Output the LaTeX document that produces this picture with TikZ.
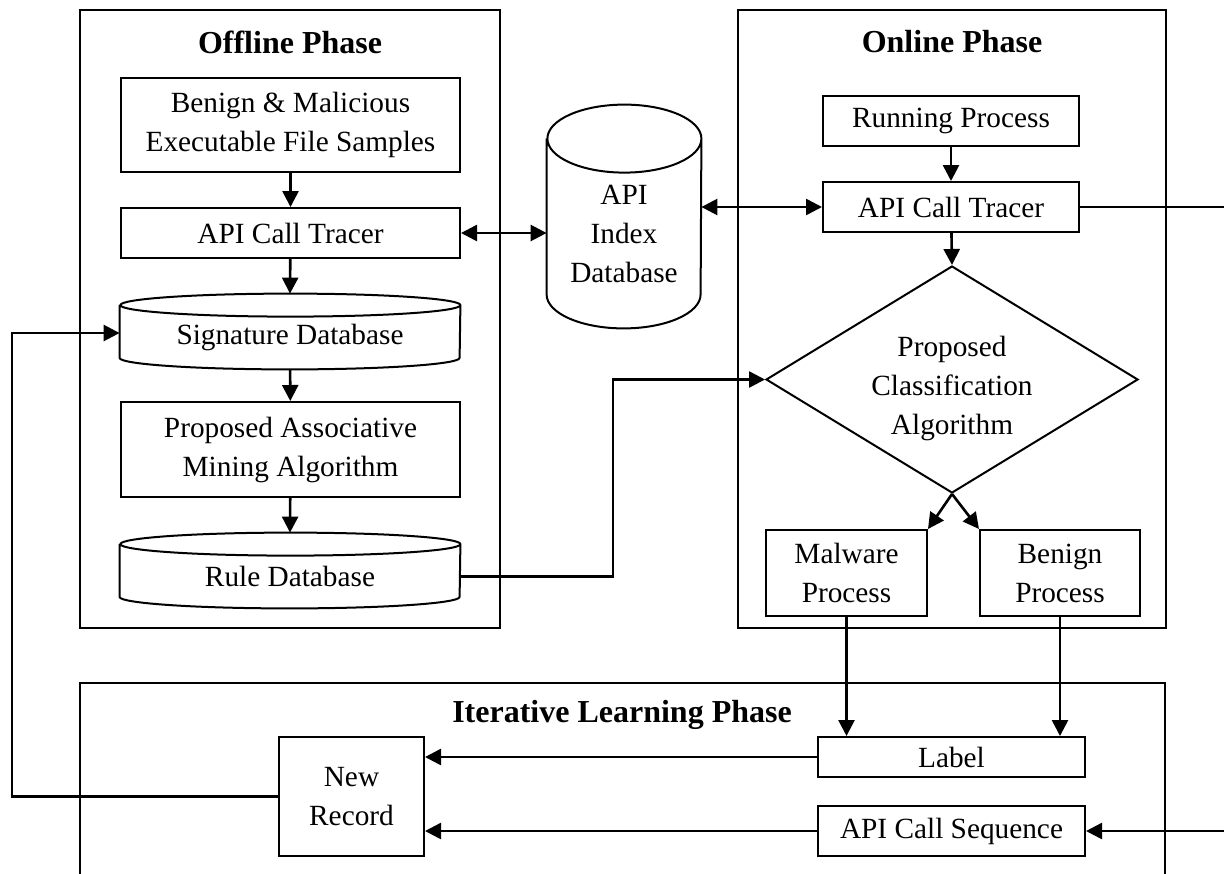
\documentclass[tikz,border=0pt]{standalone}
\usepackage{fontspec}
\setmainfont{Liberation Serif}
\usetikzlibrary{shapes.geometric, arrows.meta, calc}

\begin{document}
\begin{tikzpicture}[x=0.5pt, y=-0.5pt,
  every node/.style={font=\fontsize{14.65}{19.5}\selectfont},
  phase/.style={rectangle, draw, line width=1pt, inner sep=0pt},
  phasetitle/.style={font=\fontsize{16}{19}\selectfont\bfseries},
  box/.style={rectangle, draw, line width=1pt, align=center, inner sep=1pt},
  dbbox/.style={rectangle, align=center, inner sep=0pt},
  decision/.style={diamond, draw, line width=1pt, aspect=1.64, inner sep=0pt, align=center},
  arrow/.style={-{Triangle[length=8pt,width=8pt]}, line width=1.3pt},
  darrow/.style={{Triangle[length=8pt,width=8pt]}-{Triangle[length=8pt,width=8pt]}, line width=1.3pt},
  wire/.style={line width=1.3pt}
]
  \useasboundingbox (0,0) rectangle (1224,873);
  \clip (0,0) rectangle (1224,873);

  % Phases
  \node[phase, minimum width=210pt, minimum height=309pt] (offline) at (290, 319) {};
  \node[phase, minimum width=214pt, minimum height=309pt] (online) at (952, 319) {};
  \node[phase, minimum width=542.5pt, minimum height=110pt] (iterative) at (622.5, 793) {};
  \node[phasetitle] (offtitle) at (290, 42) {Offline Phase};
  \node[phasetitle] (ontitle) at (952, 42) {Online Phase};
  \node[phasetitle] (ittitle) at (622, 715) {Iterative Learning Phase};

  % Offline phase
  \node[box, minimum width=169.5pt, minimum height=47pt] (samples) at (290.5, 125) {Benign \& Malicious\\Executable File Samples};
  \node[box, minimum width=169.5pt, minimum height=25pt] (tracerA) at (290.5, 233) {API Call Tracer};
  \node[dbbox, minimum width=170pt, minimum height=31.75pt] (sigdb) at (290, 337.25) {Signature Database};
  \node[box, minimum width=169.5pt, minimum height=47.5pt] (mining) at (290.5, 449.5) {Proposed Associative\\Mining Algorithm};
  \node[dbbox, minimum width=170pt, minimum height=31.75pt] (ruledb) at (290, 576.25) {Rule Database};

  % Shared database
  \node[dbbox, minimum width=77pt, minimum height=94.5pt] (apidb) at (624, 233.5) {API\\Index\\Database};

  % Online phase
  \node[box, minimum width=128pt, minimum height=25pt] (running) at (951, 121) {Running Process};
  \node[box, minimum width=128pt, minimum height=25pt] (tracerB) at (951, 207) {API Call Tracer};
  \node[decision, minimum width=186pt, minimum height=113.5pt] (classify) at (952, 379.5) {\rule{0pt}{19.5pt}Proposed\\Classification\\Algorithm};
  \node[box, minimum width=80.5pt, minimum height=43pt] (malware) at (846.5, 573) {Malware\\Process};
  \node[box, minimum width=80pt, minimum height=43pt] (benign) at (1060, 573) {Benign\\Process};

  % Iterative learning phase
  \node[box, minimum width=72.5pt, minimum height=59.5pt] (newrec) at (351.5, 796.5) {New\\Record};
  \node[box, minimum width=133.5pt, minimum height=20pt] (label) at (951.5, 757) {Label};
  \node[box, minimum width=133.5pt, minimum height=25pt] (apiseq) at (951.5, 831) {API Call Sequence};

  % Cylinders
  \foreach \db/\a/\r in {sigdb/85pt/5.75pt, ruledb/85pt/5.75pt, apidb/38.5pt/17pt}
    \draw[line width=1pt] (\db.north west) -- ([yshift=\r]\db.south west)
      arc[start angle=180, end angle=360, x radius=\a, y radius=\r]
      -- (\db.north east)
      arc[start angle=0, end angle=360, x radius=\a, y radius=\r];

  % Turning points
  \coordinate (rulebend) at (613, 379.5);
  \coordinate (loopleft) at (12, 333);
  \coordinate (rightout) at (1232, 207);

  % Offline flow
  \draw[arrow] (samples) -- (tracerA);
  \draw[arrow] (tracerA) -- ([yshift=5.75pt]sigdb.north);
  \draw[arrow] (sigdb) -- (mining);
  \draw[arrow] (mining) -- ([yshift=5.75pt]ruledb.north);
  \draw[darrow] (tracerA.east) -- (tracerA.east -| apidb.west);
  \draw[darrow] (tracerB.west -| apidb.east) -- (tracerB.west);

  % Online flow
  \draw[arrow] (running) -- (tracerB);
  \draw[arrow] (tracerB) -- (classify.north);
  \draw[arrow] (ruledb.east) -| (rulebend) -- (classify.west);
  \draw[arrow] (classify.south) -- (malware.north east);
  \draw[arrow] (classify.south) -- (benign.north west);

  % Learning loop
  \draw[arrow] (malware.south) -- (malware.south |- label.north);
  \draw[arrow] (benign.south) -- (benign.south |- label.north);
  \draw[arrow] (label.west) -- (label.west -| newrec.east);
  \draw[arrow] (apiseq.west) -- (apiseq.west -| newrec.east);
  \draw[arrow] (newrec.west) -| (loopleft) -- (loopleft -| sigdb.west);
  \draw[arrow] (tracerB.east) -- (rightout) |- (apiseq.east);
\end{tikzpicture}
\end{document}
